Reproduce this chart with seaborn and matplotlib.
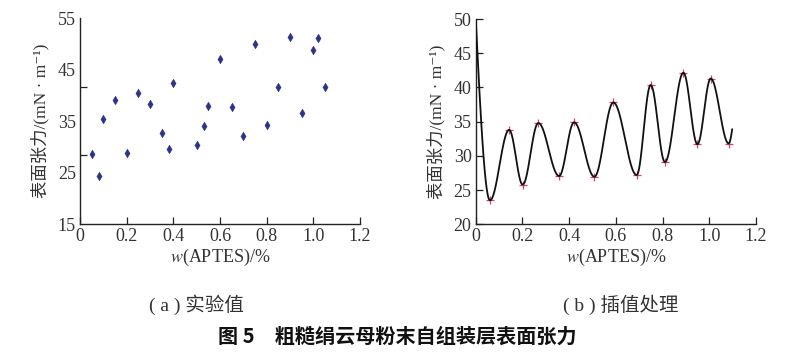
import numpy as np
import pandas as pd
import seaborn as sns
import matplotlib
matplotlib.use("Agg")
import matplotlib.pyplot as plt

# (a) experimental values
exp_x = [0.05, 0.08, 0.10, 0.15, 0.20, 0.25, 0.30, 0.35, 0.38, 0.40, 0.50, 0.53,
         0.55, 0.60, 0.65, 0.70, 0.75, 0.80, 0.85, 0.90, 0.95, 1.00, 1.02, 1.05]
exp_y = [28.5, 24.4, 35.3, 39.0, 28.7, 40.4, 38.3, 32.6, 29.6, 42.4, 30.3, 34.0,
         37.9, 47.0, 37.7, 32.0, 50.0, 34.2, 41.7, 51.4, 36.5, 48.8, 51.1, 41.7]

# (b) interpolated curve: start, extrema, end
key_x = [0.0, 0.061, 0.143, 0.201, 0.268, 0.357, 0.421, 0.508, 0.589, 0.689,
         0.749, 0.810, 0.889, 0.949, 1.006, 1.083, 1.098]
key_y = [50.0, 23.5, 33.8, 25.8, 34.8, 27.05, 34.9, 26.95, 37.8, 27.2,
         40.35, 29.1, 42.15, 31.7, 41.3, 31.8, 33.9]

sns.set_style("ticks")
serif = ["Liberation Serif", "Noto Sans CJK SC", "DejaVu Sans"]
plt.rcParams["font.family"] = serif
plt.rcParams["mathtext.fontset"] = "stix"
txt = "#333333"


def smooth_curve(xs, ys, n=60):
    # build a smooth curve through the key points (flat at the extrema)
    cx, cy = [], []
    last = len(xs) - 2
    for i in range(len(xs) - 1):
        t = np.linspace(0, 1, n, endpoint=(i == last))
        if i == 0:
            w = np.sin(np.pi / 2 * t)
        elif i == last:
            w = 1 - np.cos(np.pi / 2 * t)
        else:
            w = (1 - np.cos(np.pi * t)) / 2
        cx.extend(xs[i] + (xs[i + 1] - xs[i]) * t)
        cy.extend(ys[i] + (ys[i + 1] - ys[i]) * w)
    return pd.DataFrame({"x": cx, "y": cy})


fig = plt.figure(figsize=(7.93, 3.52), dpi=100)
ax1 = fig.add_axes([0.1009, 0.3636, 0.3531, 0.5852])
ax2 = fig.add_axes([0.5999, 0.3628, 0.3535, 0.5832])

# left: scatter
df_exp = pd.DataFrame({"x": exp_x, "y": exp_y})
sns.scatterplot(data=df_exp, x="x", y="y", ax=ax1, marker="d", s=20,
                color="#2b3385", edgecolor="#2b3385", linewidth=0.3, zorder=3)
ax1.set_xlim(0, 1.2)
ax1.set_ylim(15, 55)
ax1.set_yticks([15, 25, 35, 45, 55])
ax1.set_yticks(np.linspace(15, 55, 4), minor=True)
ax1.tick_params(axis="y", which="major", length=0)
ax1.tick_params(axis="y", which="minor", direction="in", length=5, width=0.9,
                color="#222222")

# right: interpolated curve
curve = smooth_curve(key_x, key_y)
sns.lineplot(data=curve, x="x", y="y", ax=ax2, sort=False, estimator=None,
             color="#111111", linewidth=1.3, zorder=3)
df_key = pd.DataFrame({"x": key_x[1:-1], "y": key_y[1:-1]})
sns.scatterplot(data=df_key, x="x", y="y", ax=ax2, marker="+", s=28,
                color="#c84a64", linewidth=0.9, zorder=2)
ax2.set_xlim(0, 1.2)
ax2.set_ylim(20, 50)
ax2.set_yticks([20, 25, 30, 35, 40, 45, 50])
ax2.tick_params(axis="y", direction="in", length=5, width=0.9, color="#222222")

for ax in (ax1, ax2):
    sns.despine(ax=ax)
    for s in ("left", "bottom"):
        ax.spines[s].set_color("#222222")
        ax.spines[s].set_linewidth(1.0)
    ax.set_xticks([0, 0.2, 0.4, 0.6, 0.8, 1.0, 1.2])
    ax.set_xticklabels(["0", "0.2", "0.4", "0.6", "0.8", "1.0", "1.2"])
    ax.tick_params(axis="x", direction="in", length=5, width=0.9, color="#222222")
    ax.tick_params(labelsize=13, labelcolor=txt, pad=3)
    ax.set_xlabel("$w$(APTES)/%", fontsize=13, color=txt, labelpad=1)
    ax.set_ylabel("表面张力/(mN · m⁻¹)", fontsize=12.5, color=txt, labelpad=6)
    for lab in ax.get_xticklabels() + ax.get_yticklabels():
        lab.set_family(serif)

fig.text(196 / 793, 1 - 305 / 352, "( a ) 实验值", ha="center", va="center",
         fontsize=14, color=txt, family=serif)
fig.text(621 / 793, 1 - 305 / 352, "( b ) 插值处理", ha="center", va="center",
         fontsize=14, color=txt, family=serif)
fig.text(397 / 793, 1 - 336 / 352, "图 5　粗糙绢云母粉末自组装层表面张力", ha="center",
         va="center", fontsize=14.5, fontweight="bold", color="#111111",
         family=["Noto Sans CJK SC", "DejaVu Sans"])

fig.savefig("out.png", dpi=100)
